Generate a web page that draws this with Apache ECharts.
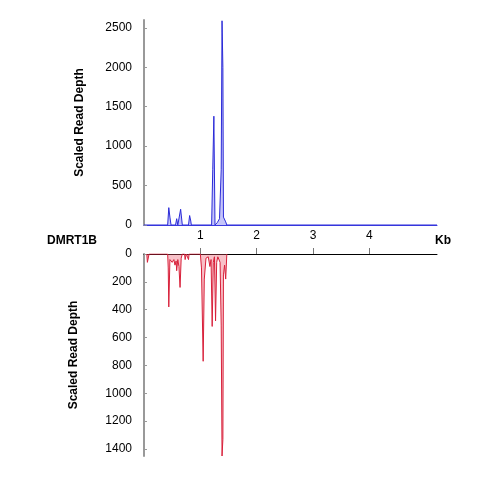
<!DOCTYPE html>
<html>
<head>
<meta charset="utf-8">
<script src="https://cdn.jsdelivr.net/npm/echarts@6/dist/echarts.min.js"></script>
<style>html,body{margin:0;background:#fff}#c{width:480px;height:480px}</style>
</head>
<body>
<div id="c"></div>
<script>
// kb positions and scaled read depth, forward strand (top)
const topKb = [0, 0.42, 0.44, 0.46, 0.48, 0.56, 0.58, 0.6, 0.63, 0.65, 0.67, 0.68, 0.79, 0.81, 0.83, 0.84,
  1.2, 1.22, 1.24, 1.26, 1.3, 1.34, 1.37, 1.385, 1.4, 1.41, 1.43, 1.45, 1.47, 5.2]
const topDepth = [0, 0, 220, 100, 0, 0, 80, 0, 0, 200, 190, 0, 0, 120, 50, 0,
  0, 700, 1380, 0, 30, 80, 700, 2590, 2000, 100, 120, 40, 0, 0]
// reverse strand (bottom)
const botKb = [0.05, 0.06, 0.08, 0.09, 0.42, 0.43, 0.44, 0.46, 0.5, 0.53, 0.55, 0.57, 0.58, 0.6, 0.62, 0.64, 0.66, 0.68,
  0.72, 0.73, 0.75, 0.78, 0.79, 0.8, 1.0, 1.02, 1.05, 1.07, 1.1, 1.14, 1.17, 1.19, 1.21, 1.23, 1.25, 1.27, 1.29,
  1.31, 1.35, 1.37, 1.385, 1.4, 1.41, 1.43, 1.45, 1.47]
const botDepth = [0, 60, 60, 0, 0, 100, 380, 40, 60, 40, 80, 50, 120, 40, 90, 240, 30, 0,
  0, 40, 0, 0, 40, 0, 0, 100, 770, 180, 30, 20, 90, 40, 520, 60, 20, 480, 60,
  20, 60, 510, 1450, 1330, 150, 80, 180, 0]
const kbTicks = [1, 2, 3, 4]

const font = 'Liberation Sans, Arial, sans-serif'
const pair = (xs, ys) => xs.map((x, i) => [x, ys[i]])

const chart = echarts.init(document.getElementById('c'))
chart.setOption({
  animation: false,
  textStyle: { fontFamily: font },
  grid: [
    { left: 144, top: 20, width: 293, height: 205 },
    { left: 144, top: 254, width: 293, height: 202 },
  ],
  xAxis: [
    { gridIndex: 0, type: 'value', min: 0, max: 5.2, axisLine: { lineStyle: { color: '#3a3adf' } },
      axisTick: { show: false }, axisLabel: { show: false }, splitLine: { show: false } },
    { gridIndex: 1, type: 'value', position: 'top', min: 0, max: 5.2,
      axisLine: { lineStyle: { color: '#000' } },
      axisTick: { length: 6, customValues: kbTicks, lineStyle: { color: '#777' } },
      axisLabel: { margin: 12, color: '#000', fontSize: 12, customValues: kbTicks },
      splitLine: { show: false } },
  ],
  yAxis: [
    { gridIndex: 0, type: 'value', min: 0, max: 2600, interval: 500,
      name: 'Scaled Read Depth', nameLocation: 'middle', nameGap: 58,
      nameTextStyle: { fontWeight: 'bold', fontSize: 12, color: '#000' },
      axisLine: { show: true, lineStyle: { color: '#999', width: 2 } },
      axisTick: { inside: true, length: 3, lineStyle: { color: '#999' } },
      axisLabel: { color: '#000', fontSize: 12, margin: 12, showMaxLabel: false, formatter: v => String(v) },
      splitLine: { show: false } },
    { gridIndex: 1, type: 'value', inverse: true, min: 0, max: 1450, interval: 200,
      name: 'Scaled Read Depth', nameLocation: 'middle', nameGap: 64,
      nameTextStyle: { fontWeight: 'bold', fontSize: 12, color: '#000' },
      axisLine: { show: true, lineStyle: { color: '#999', width: 2 } },
      axisTick: { inside: true, length: 3, lineStyle: { color: '#999' } },
      axisLabel: { color: '#000', fontSize: 12, margin: 12, showMaxLabel: false, formatter: v => String(v) },
      splitLine: { show: false } },
  ],
  graphic: [
    { type: 'text', left: 47, top: 235, style: { text: 'DMRT1B', font: 'bold 12px ' + font, fill: '#000' } },
    { type: 'text', left: 435, top: 235, style: { text: 'Kb', font: 'bold 12px ' + font, fill: '#000' } },
  ],
  series: [
    { type: 'line', xAxisIndex: 0, yAxisIndex: 0, data: pair(topKb, topDepth), symbol: 'none',
      lineStyle: { color: '#2b2bd8', width: 1 }, areaStyle: { color: 'rgba(90,90,240,0.5)' } },
    { type: 'line', xAxisIndex: 1, yAxisIndex: 1, data: pair(botKb, botDepth), symbol: 'none',
      lineStyle: { color: '#d8203a', width: 1 }, areaStyle: { color: 'rgba(235,80,100,0.5)' } },
  ],
})
</script>
</body>
</html>
